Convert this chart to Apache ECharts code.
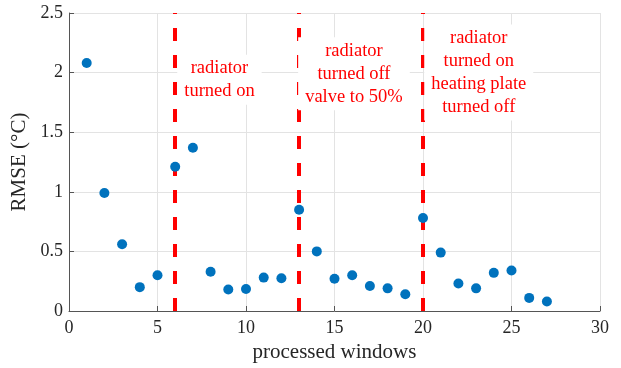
<!DOCTYPE html>
<html><head><meta charset="utf-8">
<script src="https://cdn.jsdelivr.net/npm/echarts@6/dist/echarts.min.js"></script>
<style>html,body{margin:0;padding:0;background:#fff}#c{width:621px;height:368px}</style>
</head><body><div id="c"></div>
<script>
const windows = [1,2,3,4,5,6,7,8,9,10,11,12,13,14,15,16,17,18,19,20,21,22,23,24,25,26,27];
const rmse = [2.08,0.99,0.56,0.20,0.30,1.21,1.37,0.33,0.18,0.185,0.28,0.275,0.85,0.50,0.27,0.30,0.21,0.19,0.14,0.78,0.49,0.23,0.19,0.32,0.34,0.11,0.08];
const eventX = [6,13,20];
const notes = [
  {x:8.5, y:1.94, text:'radiator\nturned on'},
  {x:16.1, y:1.99, text:'radiator\nturned off\nvalve to 50%'},
  {x:23.15, y:2.0, text:'radiator\nturned on\nheating plate\nturned off'}
];
const serif = '"Liberation Serif", "Times New Roman", serif';
const chart = echarts.init(document.getElementById('c'));
chart.setOption({
  animation:false,
  grid:{left:69,right:21,top:13,bottom:57},
  xAxis:{type:'value',min:0,max:30,interval:5,
    name:'processed windows',nameLocation:'middle',nameGap:31,
    nameTextStyle:{fontFamily:serif,fontSize:21,color:'#262626'},
    axisLine:{show:true,onZero:false,lineStyle:{color:'#555555',width:1}},
    axisTick:{show:true,inside:true,length:5,lineStyle:{color:'#555555'}},
    axisLabel:{fontFamily:serif,fontSize:18,color:'#262626',margin:8},
    splitLine:{show:true,lineStyle:{color:'#e3e3e3',width:1}}},
  yAxis:{type:'value',min:0,max:2.5,interval:0.5,
    name:'RMSE (°C)',nameLocation:'middle',nameGap:35,
    nameTextStyle:{fontFamily:serif,fontSize:21,color:'#262626'},
    axisLine:{show:true,onZero:false,lineStyle:{color:'#555555',width:1}},
    axisTick:{show:true,inside:true,length:5,lineStyle:{color:'#555555'}},
    axisLabel:{fontFamily:serif,fontSize:18,color:'#262626',margin:6,
      formatter:v=>String(v)},
    splitLine:{show:true,lineStyle:{color:'#e3e3e3',width:1}}},
  series:[
    {type:'scatter',data:windows.map((w,i)=>[w,rmse[i]]),symbolSize:10,
     itemStyle:{color:'#0072BD',opacity:1},z:5,
     markLine:{silent:true,symbol:['none','none'],label:{show:false},
       lineStyle:{color:'#ff0000',width:4,type:[13,14]},
       data:eventX.map(x=>({xAxis:x}))},
     markPoint:{symbol:'rect',symbolSize:0,silent:true,
       label:{show:true,position:'inside',fontFamily:serif,fontSize:18.5,lineHeight:23,
         color:'#ff0000',backgroundColor:'#ffffff',padding:[2,7],
         formatter:p=>p.data.t},
       data:notes.map(n=>({coord:[n.x,n.y],t:n.text,value:0}))}
    }
  ]
});
</script></body></html>
